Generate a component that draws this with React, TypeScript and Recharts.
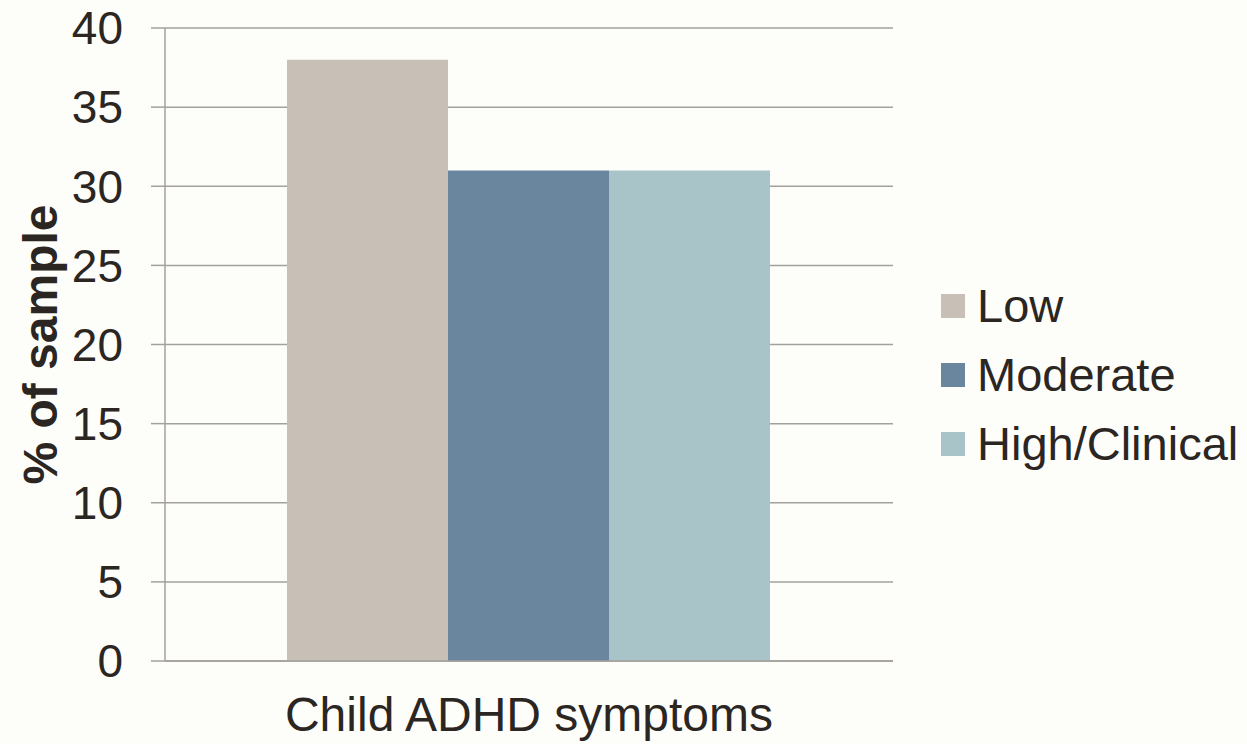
import { Bar, BarChart, CartesianGrid, Legend, XAxis, YAxis } from "recharts"

// categorie e valori
const categories = ["Child ADHD symptoms"]
const low = [38]
const moderate = [31]
const highClinical = [31]
const yTicks = [0, 5, 10, 15, 20, 25, 30, 35, 40]

const series = [
  { key: "low", name: "Low", color: "#c8c0b7" },
  { key: "moderate", name: "Moderate", color: "#6a859e" },
  { key: "high", name: "High/Clinical", color: "#a8c4c8" },
]

const data = categories.map((c, i) => ({
  name: c,
  low: low[i],
  moderate: moderate[i],
  high: highClinical[i],
}))

const textColor = "#2b2622"
const lineColor = "#a3a09d"
const font = "'Liberation Sans', Arial, sans-serif"

const renderLegend = () => (
  <div style={{ fontFamily: font, fontSize: 47, color: textColor }}>
    {series.map((s) => (
      <div key={s.key} style={{ display: "flex", alignItems: "center", height: 69 }}>
        <span style={{ width: 24, height: 24, background: s.color, marginRight: 12, display: "inline-block" }} />
        <span>{s.name}</span>
      </div>
    ))}
  </div>
)

export default function App() {
  return (
    <div style={{ position: "absolute", left: 0, top: 0, width: 1247, height: 744, background: "#fdfefa" }}>
      <BarChart
        width={1247}
        height={744}
        data={data}
        margin={{ top: 28, right: 48, bottom: 0, left: 0 }}
        barCategoryGap={122}
        barGap={0}
      >
        <CartesianGrid vertical={false} stroke={lineColor} strokeWidth={1.5} />
        <XAxis
          dataKey="name"
          height={83}
          tickLine={false}
          axisLine={{ stroke: lineColor, strokeWidth: 1.5 }}
          tick={{ fontSize: 48, fill: textColor, fontFamily: font }}
          tickMargin={30}
        />
        <YAxis
          width={165}
          domain={[0, 40]}
          ticks={yTicks}
          interval={0}
          tickSize={14}
          tickMargin={28}
          tickLine={{ stroke: lineColor, strokeWidth: 1.5 }}
          axisLine={{ stroke: lineColor, strokeWidth: 1.5 }}
          tick={{ fontSize: 46, fill: textColor, fontFamily: font }}
          label={{
            value: "% of sample",
            angle: -90,
            position: "insideLeft",
            offset: 40,
            style: { textAnchor: "middle", fontSize: 48, fontWeight: "bold", fill: textColor, fontFamily: font },
          }}
        />
        <Legend
          layout="vertical"
          align="right"
          verticalAlign="middle"
          content={renderLegend}
          wrapperStyle={{ left: 941, top: 271, width: 306 }}
        />
        {series.map((s) => (
          <Bar key={s.key} dataKey={s.key} name={s.name} fill={s.color} isAnimationActive={false} />
        ))}
      </BarChart>
    </div>
  )
}
